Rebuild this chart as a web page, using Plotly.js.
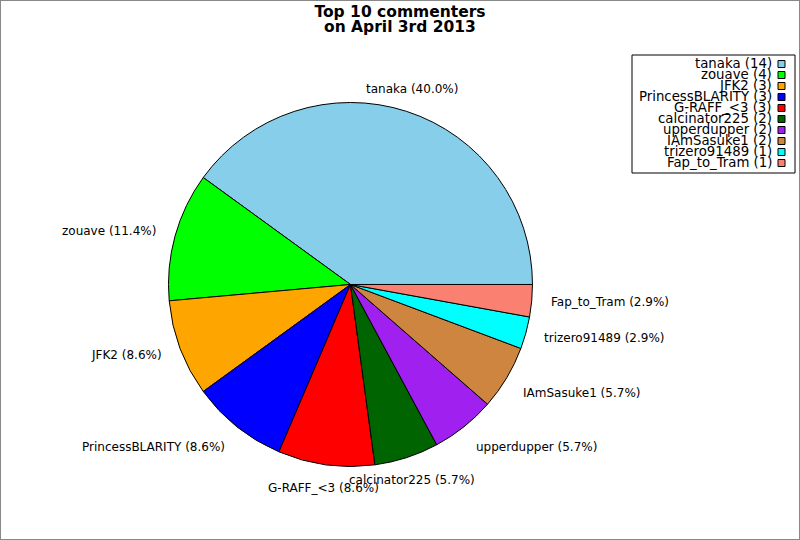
<!DOCTYPE html>
<html>
<head>
<meta charset="utf-8">
<script src="https://cdn.plot.ly/plotly-3.0.1.min.js"></script>
<style>html,body{margin:0;padding:0;background:#fff;}#chart{width:800px;height:540px;}</style>
</head>
<body>
<div id="chart"></div>
<script>
var names = ["tanaka","zouave","JFK2","PrincessBLARITY","G-RAFF_<3","calcinator225","upperdupper","IAmSasuke1","trizero91489","Fap_to_Tram"];
var counts = [14,4,3,3,3,2,2,2,1,1];
var colors = ["#87CEEB","#00FF00","#FFA500","#0000FF","#FF0000","#006400","#A020F0","#CD853F","#00FFFF","#FA8072"];
var titleLine1 = "Top 10 commenters";
var titleLine2 = "on April 3rd 2013";

var W = 800, H = 540;
var dom = {x:[0.2106,0.6656], y:[0.1361,0.8102]};
var cx = (dom.x[0]+dom.x[1])/2*W;
var cyb = (dom.y[0]+dom.y[1])/2*H;
var R = Math.min((dom.x[1]-dom.x[0])*W,(dom.y[1]-dom.y[0])*H)/2;

function esc(s){return s.replace(/&/g,'&amp;').replace(/</g,'&lt;').replace(/>/g,'&gt;');}

var total = counts.reduce(function(a,b){return a+b;},0);
// first slice starts at 3 o'clock and runs counterclockwise
var rotation = 90 - 360*counts[0]/total;

var annotations = [];
var shapes = [];
var cum = 0;
counts.forEach(function(v,i){
  var mid = (cum + v/2)/total*2*Math.PI;
  cum += v;
  var c = Math.cos(mid), s = Math.sin(mid);
  var px = cx + 1.1*R*c, py = cyb + 1.1*R*s;
  var xa = Math.abs(c) < 0.5 ? 'center' : (c > 0 ? 'left' : 'right');
  var ya = s > 0.5 ? 'bottom' : (s < -0.5 ? 'top' : 'middle');
  var ys = ya === 'bottom' ? -3 : (ya === 'top' ? 2.5 : 0);
  annotations.push({
    xref:'paper', yref:'paper', x:px/W, y:py/H, xanchor:xa, yanchor:ya, yshift:ys,
    text: esc(names[i]) + ' (' + (v/total*100).toFixed(1) + '%)',
    showarrow:false, borderpad:0,
    font:{family:'DejaVu Sans', size:12, color:'#000'}
  });
});

// legend (text right-aligned, swatch on the right)
var legTop = 64, legStep = 11, legTextX = 773, swX = 778, sw = 7;
names.forEach(function(n,i){
  var yc = legTop + legStep*i;
  annotations.push({
    xref:'paper', yref:'paper', x:legTextX/W, y:1 - yc/H, xanchor:'right', yanchor:'middle',
    text: esc(n) + ' (' + counts[i] + ')', showarrow:false, borderpad:0,
    font:{family:'DejaVu Sans', size:13.3, color:'#000'}
  });
  shapes.push({
    type:'rect', xref:'paper', yref:'paper',
    x0:swX/W, x1:(swX+sw)/W, y0:1-(yc-sw/2)/H, y1:1-(yc+sw/2)/H,
    fillcolor:colors[i], line:{color:'#000', width:1}
  });
});
shapes.push({type:'rect', xref:'paper', yref:'paper', x0:632/W, x1:795/W, y0:1-55/H, y1:1-173/H,
  line:{color:'#000', width:1}, fillcolor:'rgba(0,0,0,0)', layer:'below'});
// outer frame
shapes.push({type:'rect', xref:'paper', yref:'paper', x0:0, x1:1, y0:0, y1:1,
  line:{color:'#888', width:2}, fillcolor:'rgba(0,0,0,0)'});

annotations.push({
  xref:'paper', yref:'paper', x:0.5, y:1-37/H, xanchor:'center', yanchor:'bottom',
  text:'<b>'+titleLine2+'</b>', showarrow:false, borderpad:0,
  font:{family:'DejaVu Sans', size:15.5, color:'#000'}
});

var data = [{
  type:'pie', labels:names, values:counts, sort:false, direction:'counterclockwise', rotation:rotation,
  marker:{colors:colors, line:{color:'#000', width:1}},
  textinfo:'none', hoverinfo:'none', domain:dom, showlegend:false
}];

var layout = {
  width:W, height:H, margin:{l:0,r:0,t:0,b:0},
  paper_bgcolor:'#fff', plot_bgcolor:'#fff',
  title:{text:'<b>'+titleLine1+'</b>', x:0.5, xanchor:'center', y:1-17/H, yanchor:'bottom', yref:'container',
    font:{family:'DejaVu Sans', size:15.5, color:'#000'}},
  showlegend:false,
  annotations:annotations, shapes:shapes
};

Plotly.newPlot('chart', data, layout, {displayModeBar:false, staticPlot:true});
</script>
</body>
</html>
